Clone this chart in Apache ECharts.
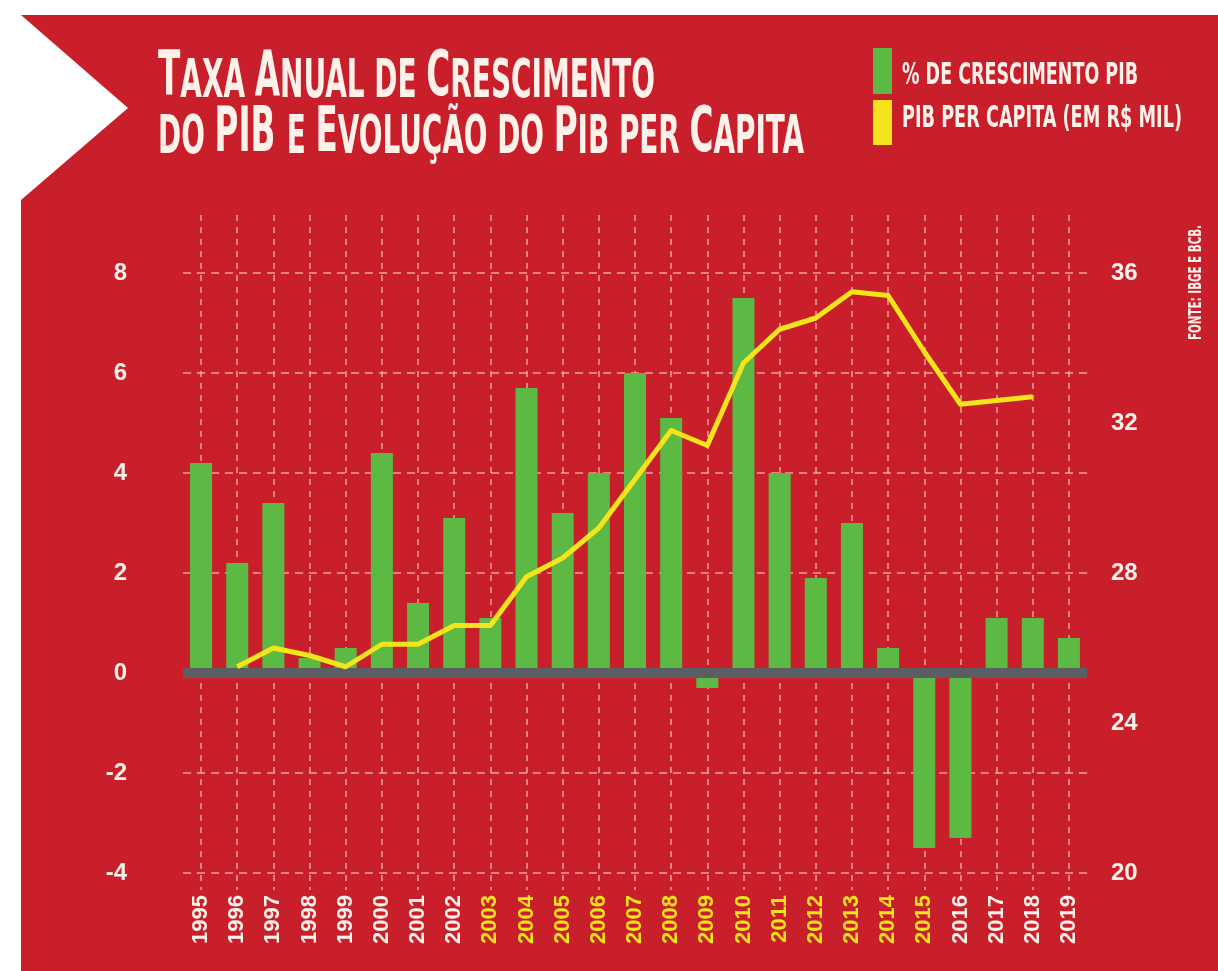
<!DOCTYPE html>
<html>
<head>
<meta charset="utf-8">
<script src="https://cdn.jsdelivr.net/npm/echarts@6/dist/echarts.min.js"></script>
<style>
  html, body { margin: 0; padding: 0; background: #fff; }
  #main { width: 1218px; height: 971px; }
</style>
</head>
<body>
<div id="main"></div>
<script>
// anos
var years = ['1995', '1996', '1997', '1998', '1999', '2000', '2001', '2002', '2003', '2004',
  '2005', '2006', '2007', '2008', '2009', '2010', '2011', '2012', '2013', '2014',
  '2015', '2016', '2017', '2018', '2019'];
// % de crescimento do PIB
var growth = [4.2, 2.2, 3.4, 0.3, 0.5, 4.4, 1.4, 3.1, 1.1, 5.7,
  3.2, 4.0, 6.0, 5.1, -0.3, 7.5, 4.0, 1.9, 3.0, 0.5,
  -3.5, -3.3, 1.1, 1.1, 0.7];
// PIB per capita (em R$ mil)
var perCapita = [null, 25.5, 26.0, 25.8, 25.5, 26.1, 26.1, 26.6, 26.6, 27.9,
  28.4, 29.2, 30.5, 31.8, 31.4, 33.6, 34.5, 34.8, 35.5, 35.4,
  33.9, 32.5, 32.6, 32.7, null];
// ticks
var leftTicks = { min: -4, max: 8, step: 2 };
var rightTicks = { min: 20, max: 36, step: 4 };
// anos com rótulo amarelo
var yellowYears = ['2003', '2004', '2005', '2006', '2007', '2008', '2009', '2010', '2011',
  '2012', '2013', '2014', '2015'];

var RED = '#c81f2a';
var GREEN = '#5cb944';
var YELLOW = '#f4e41c';
var GRAY = '#5b5e63';
var WHITE = '#fdf1ea';
var GRID_LINE = 'rgba(255, 205, 195, 0.75)';
var COND = '"DejaVu Sans Condensed", "DejaVu Sans", sans-serif';
var SANS = '"Liberation Sans", Arial, sans-serif';

// medir texto para encaixar a largura
var mctx = document.createElement('canvas').getContext('2d');
function textW(t, size) {
  mctx.font = 'bold ' + size + 'px ' + COND;
  return mctx.measureText(t).width;
}

var BIG = 62, SMALL = 53;
function richLine(tokens) {
  var s = '', w = 0;
  tokens.forEach(function (tk) {
    s += '{' + tk[1] + '|' + tk[0] + '}';
    w += textW(tk[0], tk[1] === 'b' ? BIG : SMALL);
  });
  return { text: s, width: w };
}
var richStyles = {
  b: { fontSize: BIG, fontWeight: 'bold', fontFamily: COND, fill: WHITE, verticalAlign: 'bottom', lineHeight: BIG },
  s: { fontSize: SMALL, fontWeight: 'bold', fontFamily: COND, fill: WHITE, verticalAlign: 'bottom', lineHeight: SMALL + 4 }
};
var title1 = richLine([['T', 'b'], ['AXA ', 's'], ['A', 'b'], ['NUAL DE ', 's'], ['C', 'b'], ['RESCIMENTO', 's']]);
var title2 = richLine([['DO ', 's'], ['PIB ', 'b'], ['E ', 's'], ['E', 'b'], ['VOLUÇÃO DO ', 's'],
  ['P', 'b'], ['IB PER ', 's'], ['C', 'b'], ['APITA', 's']]);

var leg1 = '% DE CRESCIMENTO PIB';
var leg2 = 'PIB PER CAPITA (EM R$ MIL)';
var source = 'FONTE: IBGE E BCB.';

var chart = echarts.init(document.getElementById('main'));
var option = {
  backgroundColor: RED,
  animation: false,
  graphic: [
    { type: 'rect', shape: { x: 0, y: 0, width: 1218, height: 15 }, style: { fill: '#fff' } },
    { type: 'rect', shape: { x: 0, y: 0, width: 21, height: 971 }, style: { fill: '#fff' } },
    { type: 'polygon', shape: { points: [[21, 15], [128, 108], [21, 200]] }, style: { fill: '#fff' } },
    {
      type: 'text', x: 158, y: 110, scaleX: 497 / title1.width,
      style: { text: title1.text, rich: richStyles, fill: WHITE, x: 0, y: 0, align: 'left', verticalAlign: 'bottom' }
    },
    {
      type: 'text', x: 158, y: 166, scaleX: 646 / title2.width,
      style: { text: title2.text, rich: richStyles, fill: WHITE, x: 0, y: 0, align: 'left', verticalAlign: 'bottom' }
    },
    { type: 'rect', shape: { x: 873, y: 48, width: 19, height: 46 }, style: { fill: GREEN } },
    { type: 'rect', shape: { x: 873, y: 100, width: 19, height: 45 }, style: { fill: YELLOW } },
    {
      type: 'text', x: 902, y: 76, scaleX: 236 / textW(leg1, 31),
      style: { text: leg1, x: 0, y: 0, fill: WHITE, font: 'bold 31px ' + COND, align: 'left', verticalAlign: 'middle' }
    },
    {
      type: 'text', x: 902, y: 119, scaleX: 280 / textW(leg2, 31),
      style: { text: leg2, x: 0, y: 0, fill: WHITE, font: 'bold 31px ' + COND, align: 'left', verticalAlign: 'middle' }
    },
    {
      type: 'text', x: 1197, y: 340, rotation: Math.PI / 2, scaleX: 115 / textW(source, 17),
      style: { text: source, x: 0, y: 0, fill: WHITE, font: 'bold 17px ' + COND, align: 'left', verticalAlign: 'middle' }
    }
  ],
  grid: [
    // só para as linhas verticais tracejadas
    { left: 201, right: 149, top: 215, bottom: 81 },
    // dados
    { left: 183, right: 131, top: 273, bottom: 98 }
  ],
  xAxis: [
    {
      gridIndex: 0, type: 'value', min: 0, max: years.length - 1, interval: 1,
      axisLine: { show: false }, axisTick: { show: false }, axisLabel: { show: false },
      splitLine: { show: true, lineStyle: { color: GRID_LINE, width: 1.5, type: [6, 6] } }
    },
    {
      gridIndex: 1, type: 'category', data: years,
      axisLine: { show: false }, axisTick: { show: false }, splitLine: { show: false },
      axisLabel: {
        rotate: 90, margin: 22, fontSize: 22, fontWeight: 900, fontFamily: SANS,
        color: function (v) { return yellowYears.indexOf(v) >= 0 ? YELLOW : WHITE; }
      }
    }
  ],
  yAxis: [
    { gridIndex: 0, type: 'value', min: 0, max: 1, show: false, splitLine: { show: false } },
    {
      gridIndex: 1, type: 'value', min: leftTicks.min, max: leftTicks.max, interval: leftTicks.step,
      axisLine: { show: false }, axisTick: { show: false },
      axisLabel: { margin: 56, fontSize: 24, fontWeight: 900, color: WHITE, fontFamily: SANS },
      splitLine: { show: true, lineStyle: { color: GRID_LINE, width: 1.5, type: [8, 6] } }
    },
    {
      gridIndex: 1, type: 'value', position: 'right', min: rightTicks.min, max: rightTicks.max, interval: rightTicks.step,
      axisLine: { show: false }, axisTick: { show: false }, splitLine: { show: false },
      axisLabel: { margin: 24, fontSize: 24, fontWeight: 900, color: WHITE, fontFamily: SANS }
    }
  ],
  series: [
    {
      name: '% de crescimento PIB', type: 'bar', xAxisIndex: 1, yAxisIndex: 1,
      data: growth, barWidth: 22, itemStyle: { color: GREEN },
      markLine: {
        silent: true, symbol: 'none', label: { show: false },
        lineStyle: { color: GRAY, width: 10, type: 'solid' },
        data: [{ yAxis: 0 }]
      }
    },
    {
      name: 'PIB per capita (em R$ mil)', type: 'line', xAxisIndex: 1, yAxisIndex: 2,
      data: perCapita, showSymbol: false, z: 6,
      lineStyle: { color: YELLOW, width: 5, join: 'round' }
    }
  ]
};
chart.setOption(option);
</script>
</body>
</html>
